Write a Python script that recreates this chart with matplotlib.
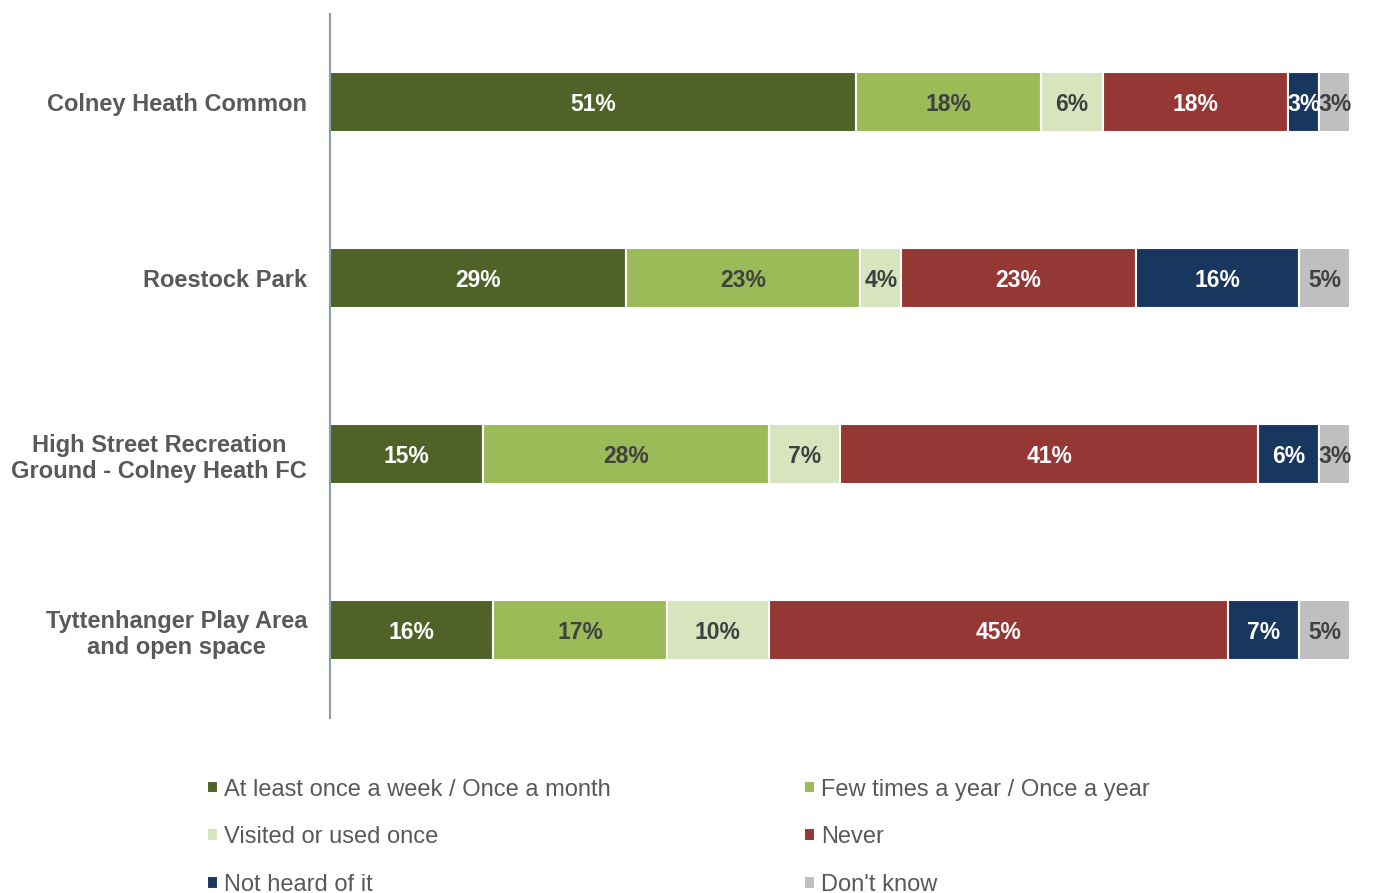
import matplotlib
matplotlib.use('Agg')
from matplotlib import pyplot as plt
import numpy as np

plt.rcParams['font.family'] = ['Liberation Sans', 'DejaVu Sans']

# data
places = ['Colney Heath Common', 'Roestock Park',
          'High Street Recreation\nGround - Colney Heath FC',
          'Tyttenhanger Play Area\nand open space']
series = ['At least once a week / Once a month', 'Few times a year / Once a year',
          'Visited or used once', 'Never', 'Not heard of it', "Don't know"]
weekly = [51, 29, 15, 16]
yearly = [18, 23, 28, 17]
once = [6, 4, 7, 10]
never = [18, 23, 41, 45]
not_heard = [3, 16, 6, 7]
dont_know = [3, 5, 3, 5]

colors = ['#4F6228', '#9BBB59', '#D7E4BD', '#953735', '#17375E', '#BFBFBF']
txt_colors = ['white', '#404040', '#404040', 'white', 'white', '#404040']

data = np.array([weekly, yearly, once, never, not_heard, dont_know], dtype=float)
widths = data / data.sum(axis=0) * 100  # bars fill the full width

fig = plt.figure(figsize=(13.74, 8.93), dpi=100)
ax = fig.add_axes([0.2402, 0.196, 0.7424, 0.788])

y = np.arange(len(places))
left = np.zeros(len(places))
handles = []
for i in range(len(series)):
    b = ax.barh(y, widths[i], left=left, height=0.34, color=colors[i],
                edgecolor='white', linewidth=1.5, label=series[i])
    handles.append(b)
    for j in range(len(places)):
        ax.text(left[j] + widths[i][j] / 2, y[j], '%d%%' % data[i][j],
                ha='center', va='center_baseline', fontsize=16.5, fontweight='bold',
                color=txt_colors[i])
    left = left + widths[i]

ax.set_xlim(0, 100)
ax.set_ylim(3.5, -0.5)
ax.set_yticks(y)
ax.set_yticklabels(places, fontsize=17, fontweight='bold', color='#595959',
                   multialignment='center')
ax.tick_params(axis='y', length=0, pad=16.5)
ax.set_xticks([])
for s in ['top', 'right', 'bottom']:
    ax.spines[s].set_visible(False)
ax.spines['left'].set_color('#8C9BAE')
ax.spines['left'].set_linewidth(1.5)

order = [0, 2, 4, 1, 3, 5]
leg = fig.legend([handles[k] for k in order], [series[k] for k in order],
                 ncol=2, loc='upper left', bbox_to_anchor=(0.1355, 0.152),
                 frameon=False, fontsize=17, handlelength=0.45, handleheight=0.45,
                 handletextpad=0.25, columnspacing=8.2, labelspacing=1.09,
                 labelcolor='#595959')

fig.savefig('out.png', dpi=100)
